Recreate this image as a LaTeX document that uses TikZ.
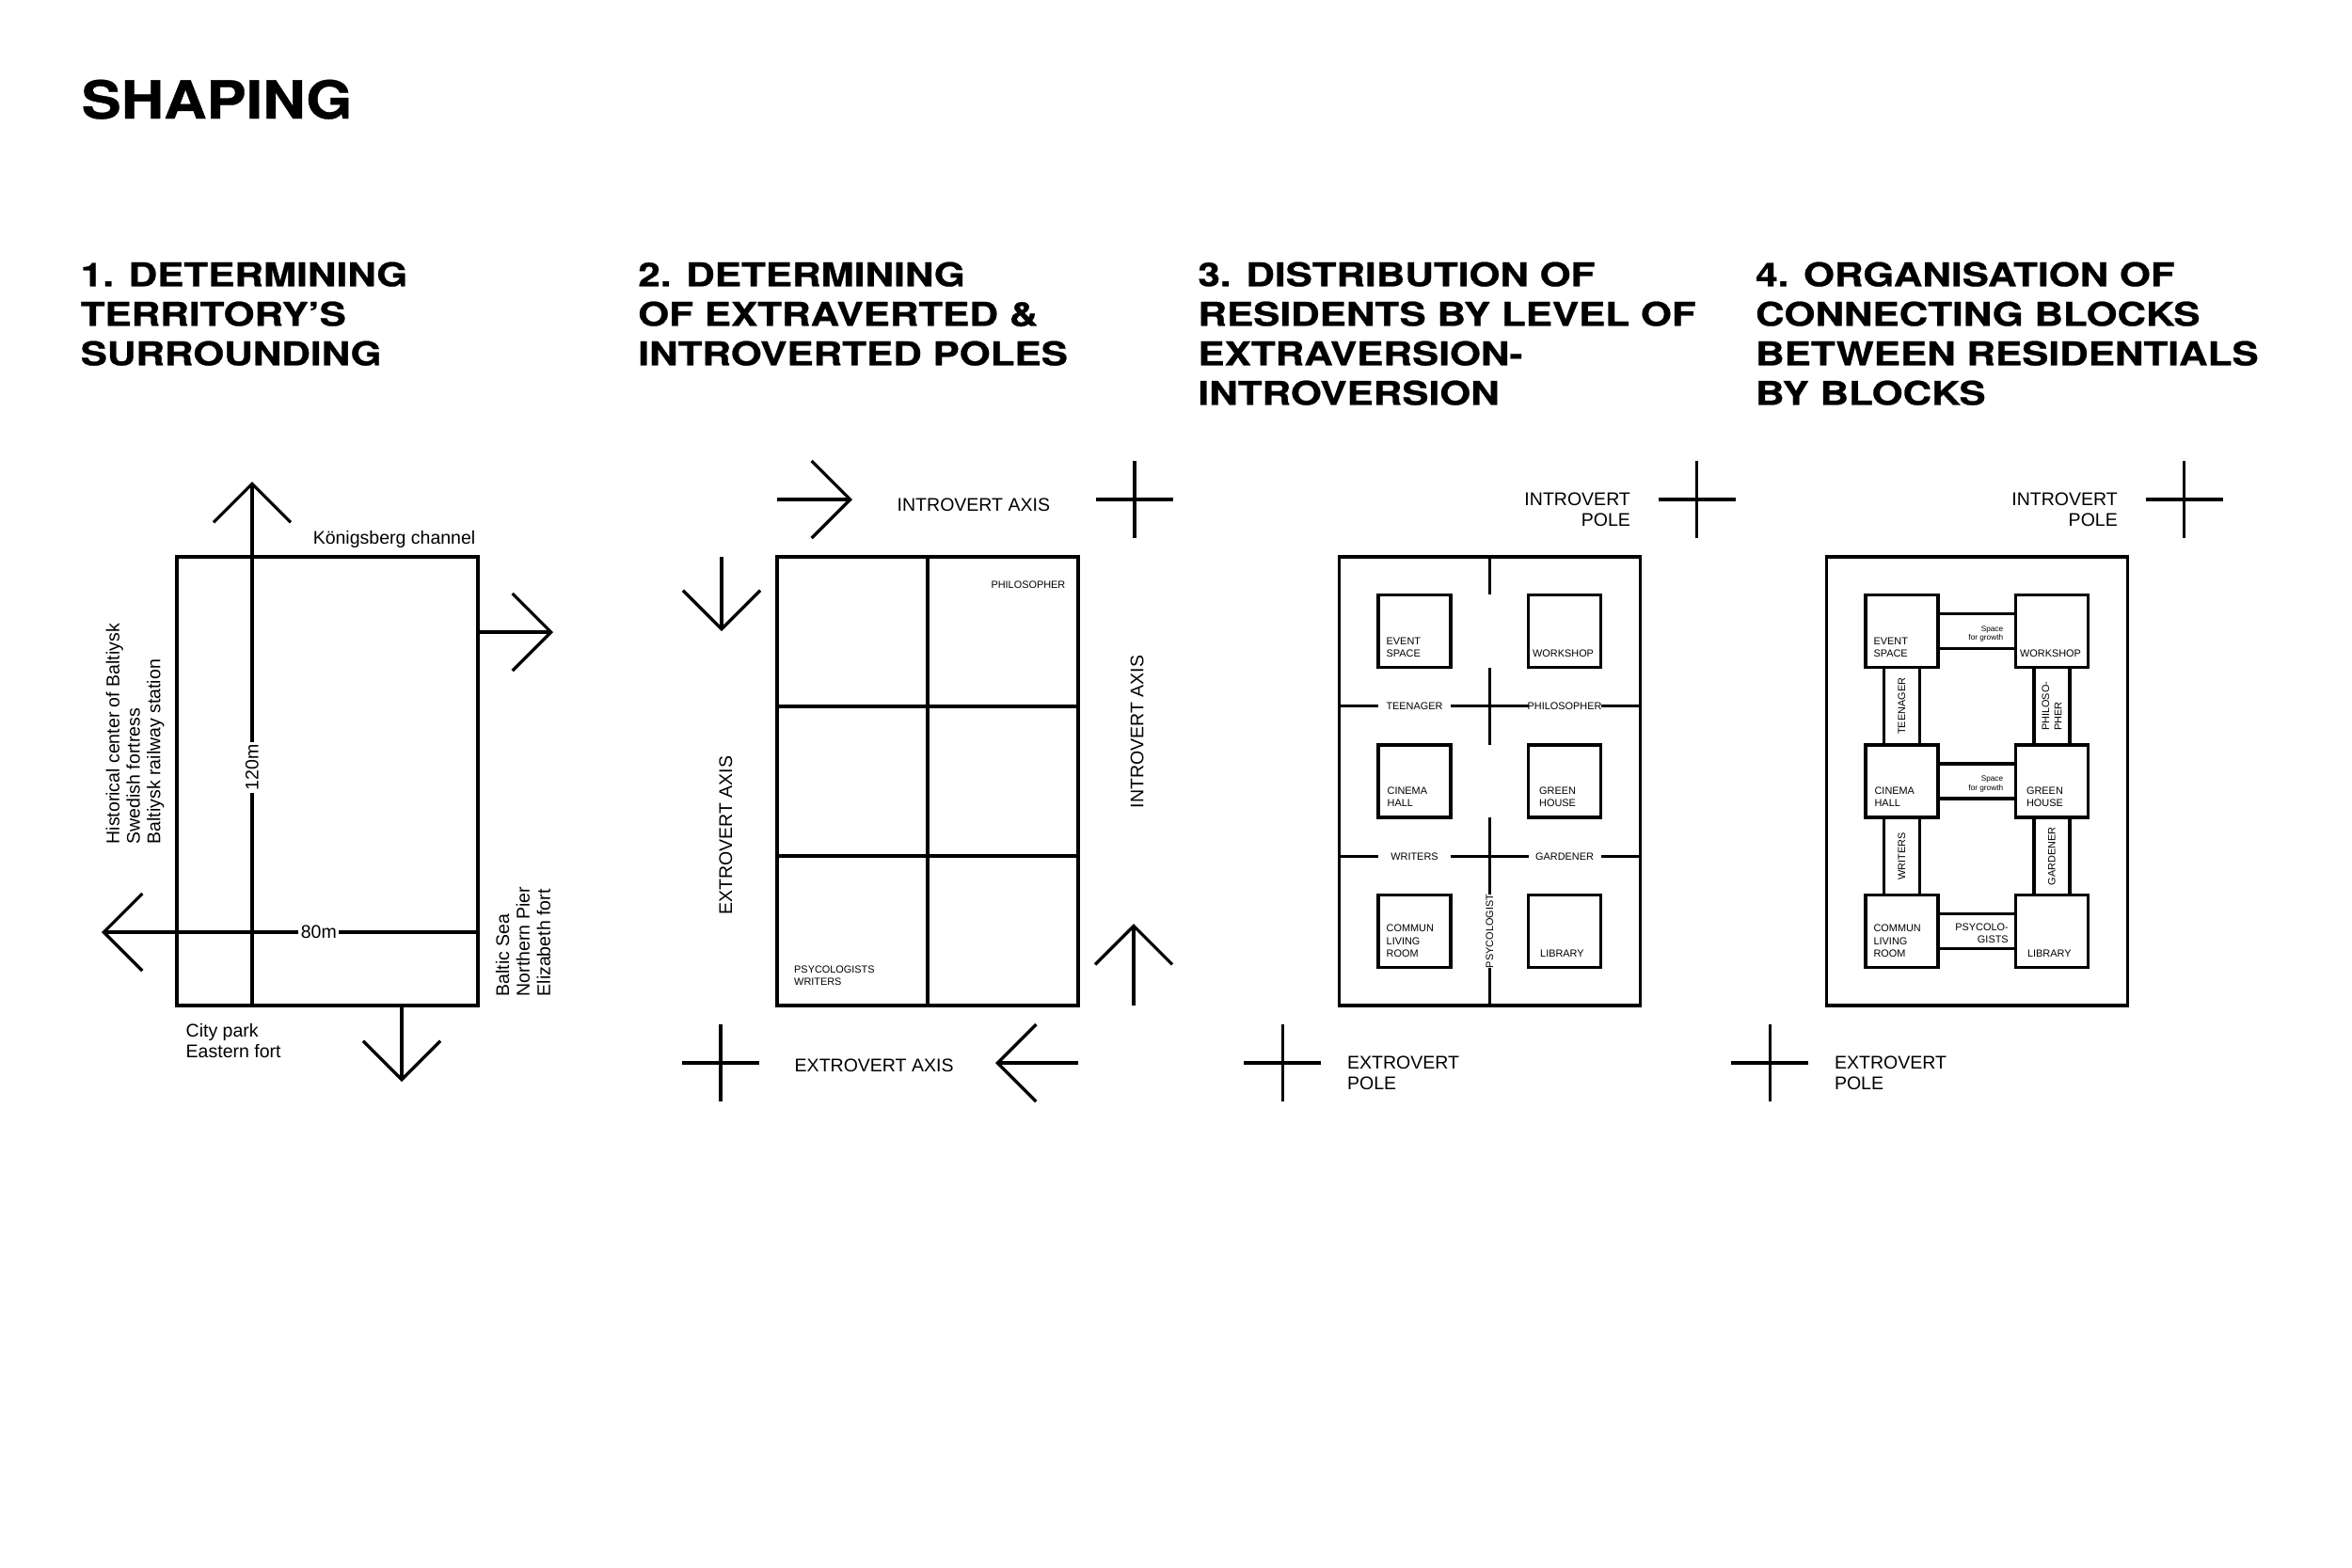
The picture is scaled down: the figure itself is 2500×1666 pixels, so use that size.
\documentclass[tikz,border=0pt]{standalone}
\usepackage{fontspec}
\setmainfont{Liberation Sans}
\newfontfamily\headfont[BoldFeatures={FakeBold=0.7}]{TeX Gyre Heros}
\usepackage{graphicx}
\usetikzlibrary{arrows.meta,calc}

\newcommand{\headtext}[1]{\scalebox{1.215}[1]{\begin{tabular}[t]{@{}l@{}}#1\end{tabular}}}

\tikzset{
  wall/.style={line width=0.95pt},
  arr/.style={wall, -{Straight Barb[length=0.41cm,width=0.82cm]}},
  site/.style={draw, wall, minimum width=3.2cm, minimum height=4.77cm, inner sep=0pt, outer sep=0pt},
  room/.style={draw, wall, minimum size=0.77cm, inner sep=0pt, outer sep=0pt},
  head/.style={inner sep=0pt, font=\headfont\bfseries\fontsize{9.9}{11.95}\selectfont},
  lbl/.style={inner sep=0pt, font=\fontsize{5.55}{6.2}\selectfont},
  smalltxt/.style={inner sep=0pt, font=\fontsize{3.1}{3.75}\selectfont},
  notetxt/.style={inner sep=0pt, font=\fontsize{2.35}{2.6}\selectfont},
  dimtxt/.style={lbl, fill=white, inner sep=0.7pt},
  pole/.pic={\draw[wall] (-41,0) -- (41,0) (0,-41) -- (0,41);}
}

\begin{document}
\begin{tikzpicture}[x=0.01cm, y=-0.01cm]
\fill[white] (0,0) rectangle (2500,1666);
\useasboundingbox (0,0) rectangle (2500,1666);

\node[anchor=base west, inner sep=0pt, font=\headfont\bfseries\fontsize{15.85}{19}\selectfont] (title) at (86,126) {\scalebox{1.13}[1]{SHAPING}};

\node[head, anchor=base west] (h1) at (85,304.3) {\headtext{1. DETERMINING\\TERRITORY’S\\SURROUNDING}};
\node[head, anchor=base west] (h2) at (677.6,304.3) {\headtext{2. DETERMINING\\OF EXTRAVERTED \&\\INTROVERTED POLES}};
\node[head, anchor=base west] (h3) at (1272.7,304.3) {\headtext{3. DISTRIBUTION OF\\RESIDENTS BY LEVEL OF\\EXTRAVERSION-\\INTROVERSION}};
\node[head, anchor=base west] (h4) at (1865.4,304.3) {\headtext{4. ORGANISATION OF\\CONNECTING BLOCKS\\BETWEEN RESIDENTIALS\\BY BLOCKS}};

% territory
\node[site] (p1) at (348,830.5) {};
\coordinate (p1n) at (268,512);
\coordinate (p1w) at (108,991);
\coordinate (p1e) at (588,672);
\coordinate (p1s) at (427,1150);
\draw[arr] (p1.south -| p1n) -- (p1n) node[dimtxt, rotate=90, pos=0.455] (d120) {120m};
\draw[arr] (p1.east |- p1w) -- (p1w) node[dimtxt, pos=0.423] (d80) {80m};
\draw[arr] (p1.east |- p1e) -- (p1e);
\draw[arr] (p1.south -| p1s) -- (p1s);
\node[lbl, anchor=base east] (kch) at (506,578) {Königsberg channel};
\node[lbl, rotate=90, anchor=west, align=left] (west1) at (143.6,898) {Historical center of Baltiysk\\Swedish fortress\\Baltiysk railway station};
\node[lbl, rotate=90, anchor=west, align=left] (east1) at (556,1060) {Baltic Sea\\Northern Pier\\Elizabeth fort};
\node[lbl, anchor=north west, align=left] (south1) at (197,1087.6) {City park\\Eastern fort};

% poles
\node[site] (p2) at (986,830.5) {};
\draw[wall] (p2.north) -- (p2.south);
\foreach \y in {751,910}
  \draw[wall] (p2.west |- 0,\y) -- (p2.east |- 0,\y);
\node[smalltxt, anchor=north east] (phil) at (1133,616.7) {PHILOSOPHER};
\node[smalltxt, anchor=north west, align=left] (psy) at (843.5,1026) {PSYCOLOGISTS\\WRITERS};
\coordinate (p2a) at (906,531);
\coordinate (p2b) at (767,671);
\coordinate (p2c) at (1205,982);
\coordinate (p2d) at (1058,1130);
\draw[arr] (p2.west |- p2a) -- (p2a);
\draw[arr] (p2.north -| p2b) -- (p2b);
\draw[arr] (p2.south -| p2c) -- (p2c);
\draw[arr] (p2.east |- p2d) -- (p2d);
\pic at ([shift={(60,-61)}]p2.north east) {pole};
\pic at ([shift={(-60,61)}]p2.south west) {pole};
\node[lbl, anchor=west] (ia) at (953,536.6) {INTROVERT AXIS};
\node[lbl, anchor=west] (ea) at (844,1133) {EXTROVERT AXIS};
\node[lbl, rotate=90] (eav) at (771.4,888) {EXTROVERT AXIS};
\node[lbl, rotate=90] (iav) at (1208.7,778) {INTROVERT AXIS};

% residents and blocks
\foreach \p/\q/\cx in {p3/a/1583.5, p4/b/2101.4}{
  \node[site] (\p) at (\cx,830.5) {};
  \pic at ([shift={(60,-61)}]\p.north east) {pole};
  \pic at ([shift={(-60,61)}]\p.south west) {pole};
  \node[lbl, anchor=north east, align=right] (in\q) at ([shift={(-10,-69)}]\p.north east) {INTROVERT\\POLE};
  \node[lbl, anchor=north west, align=left] (ex\q) at ([shift={(8,53)}]\p.south west) {EXTROVERT\\POLE};
  \foreach \r/\dx/\dy/\tx/\txt in {11/-80/-159.5/8/{EVENT\\SPACE}, 12/79.5/-159.5/4/WORKSHOP,
      21/-80/0/9/{CINEMA\\HALL}, 22/79.5/0/11/{GREEN\\HOUSE},
      31/-80/159.5/8/{COMMUN\\LIVING\\ROOM}, 32/79.5/159.5/12/LIBRARY}{
    \node[room] (\q\r) at ([shift={(\dx,\dy)}]\p.center) {};
    \node[smalltxt, anchor=south west, align=left] (t\q\r) at ([shift={(\tx,-10.5)}]\q\r.south west) {\txt};
  }
}

\coordinate (ah1) at ($(a11.south)!.5!(a21.north)$);
\coordinate (ah2) at ($(a21.south)!.5!(a31.north)$);
\coordinate (av) at ($(a11.east)!.5!(a12.west)$);
\foreach \h in {ah1,ah2}
  \draw[wall] (p3.west |- \h) -- (a11.west |- \h) (a11.east |- \h) -- (a12.west |- \h) (a12.east |- \h) -- (p3.east |- \h);
\draw[wall] (p3.north -| av) -- (a11.north -| av) (a11.south -| av) -- (a21.north -| av)
  (a21.south -| av) -- (a31.north -| av) (a31.south -| av) -- (p3.south -| av);
\node[smalltxt] (teen) at (a11 |- ah1) {TEENAGER};
\node[smalltxt] (philo) at (a12 |- ah1) {PHILOSOPHER};
\node[smalltxt] (writ) at (a11 |- ah2) {WRITERS};
\node[smalltxt] (gard) at (a12 |- ah2) {GARDENER};
\node[smalltxt, rotate=90] (psyc) at (av |- a31) {PSYCOLOGIST};

\foreach \u/\v in {b11/b12,b21/b22,b31/b32}
  \draw[wall] ([shift={(0,-18.5)}]\u.east) rectangle ([shift={(0,18.5)}]\v.west);
\foreach \u/\v in {b11/b21,b21/b31,b12/b22,b22/b32}
  \draw[wall] ([shift={(-19,0)}]\u.south) rectangle ([shift={(19,0)}]\v.north);
\node[notetxt, anchor=north east, align=right] (grow1) at ([shift={(-12.5,-6)}]b12.west) {Space\\for growth};
\node[notetxt, anchor=north east, align=right] (grow2) at ([shift={(-12.5,-6)}]b22.west) {Space\\for growth};
\node[smalltxt, anchor=north east, align=right] (psyb) at ([shift={(-7,-9)}]b32.west) {PSYCOLO-\\GISTS};
\node[smalltxt, rotate=90] (teenb) at ($(b11.south)!.5!(b21.north)$) {TEENAGER};
\node[smalltxt, rotate=90, align=left] (philb) at ($(b12.south)!.5!(b22.north)$) {PHILOSO-\\PHER};
\node[smalltxt, rotate=90] (writb) at ($(b21.south)!.5!(b31.north)$) {WRITERS};
\node[smalltxt, rotate=90] (gardb) at ($(b22.south)!.5!(b32.north)$) {GARDENER};
\end{tikzpicture}
\end{document}
